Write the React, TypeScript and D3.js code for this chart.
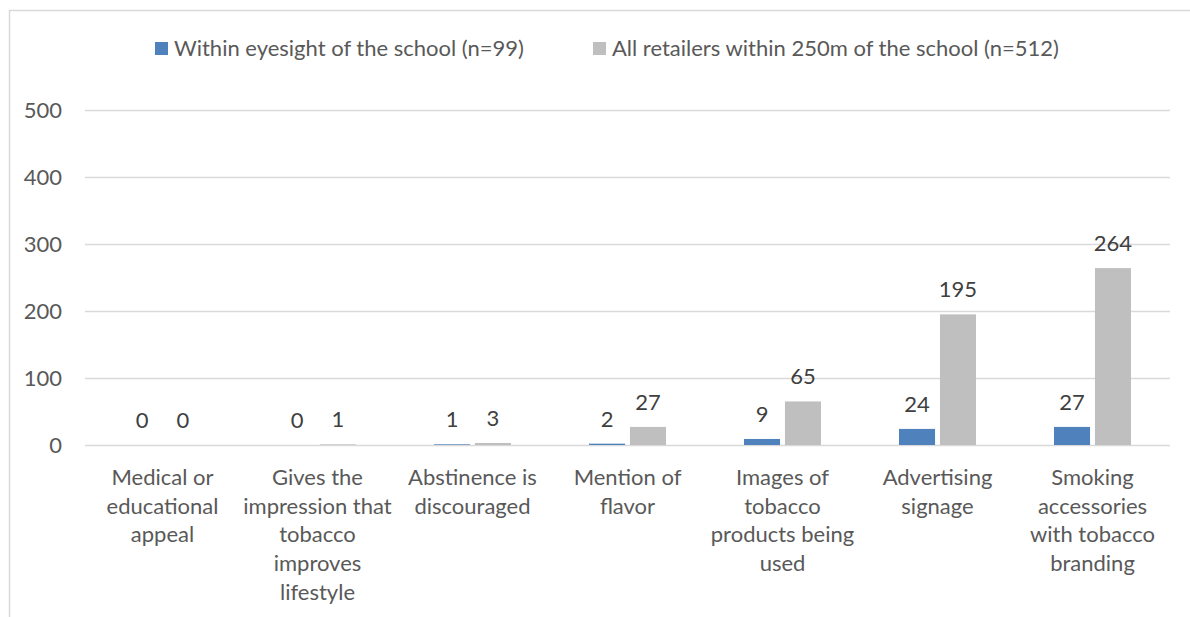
import React, { useRef, useEffect } from "react";
import * as d3 from "d3";

// category labels, already broken into lines like the original
const categories: string[][] = [
    ["Medical or", "educational", "appeal"],
    ["Gives the", "impression that", "tobacco", "improves", "lifestyle"],
    ["Abstinence is", "discouraged"],
    ["Mention of", "flavor"],
    ["Images of", "tobacco", "products being", "used"],
    ["Advertising", "signage"],
    ["Smoking", "accessories", "with tobacco", "branding"],
];

const seriesNames = [
    "Within eyesight of the school (n=99)",
    "All retailers within 250m of the school (n=512)",
];
const eyesight = [0, 0, 1, 2, 9, 24, 27];
const within250m = [0, 1, 3, 27, 65, 195, 264];
const yTicks = [0, 100, 200, 300, 400, 500];

const colors = ["#4F81BD", "#BFBFBF"];

const App: React.FC = () => {
    const svgRef = useRef<SVGSVGElement | null>(null);

    useEffect(() => {
        if (!svgRef.current) return;
        d3.select(svgRef.current).selectAll("*").remove();

        const width = 1190;
        const height = 617;
        const svg = d3.select(svgRef.current).attr("width", width).attr("height", height);
        const font = "Lato, 'Open Sans', sans-serif";
        const fs = 22;

        // chart border
        svg.append("rect")
            .attr("x", 9.5)
            .attr("y", 10.5)
            .attr("width", 1300)
            .attr("height", 800)
            .attr("fill", "#fff")
            .attr("stroke", "#D9D9D9")
            .attr("stroke-width", 1.5);

        const plot = { left: 85, right: 1170, top: 110, bottom: 445 };
        const labels = categories.map((c) => c.join(" "));
        const series = [eyesight, within250m];

        const x0 = d3.scaleBand().domain(labels).range([plot.left, plot.right]);
        const x1 = d3
            .scaleBand<number>()
            .domain([0, 1])
            .range([39, x0.bandwidth() - 39])
            .paddingInner(0.12);
        const y = d3.scaleLinear().domain([0, 500]).range([plot.bottom, plot.top]);

        // gridlines + y labels
        const yAxis = svg.append("g");
        yAxis.selectAll("line")
            .data(yTicks)
            .enter()
            .append("line")
            .attr("x1", plot.left)
            .attr("x2", plot.right)
            .attr("y1", (d) => y(d) + 0.5)
            .attr("y2", (d) => y(d) + 0.5)
            .attr("stroke", "#D9D9D9")
            .attr("stroke-width", 1.5);
        yAxis.selectAll("text")
            .data(yTicks)
            .enter()
            .append("text")
            .attr("x", 62)
            .attr("y", (d) => y(d))
            .attr("dy", "0.35em")
            .attr("text-anchor", "end")
            .attr("font-family", font)
            .attr("font-size", fs)
            .attr("fill", "#595959")
            .text((d) => d);

        // bars
        series.forEach((vals, s) => {
            const g = svg.append("g");
            g.selectAll("rect")
                .data(vals)
                .enter()
                .append("rect")
                .attr("x", (_d, i) => x0(labels[i])! + x1(s)!)
                .attr("y", (d) => y(d))
                .attr("width", x1.bandwidth())
                .attr("height", (d) => plot.bottom - y(d))
                .attr("fill", colors[s]);
            g.selectAll("text")
                .data(vals)
                .enter()
                .append("text")
                .attr("x", (_d, i) => x0(labels[i])! + x1(s)! + x1.bandwidth() / 2)
                .attr("y", (d) => y(d) - 17)
                .attr("text-anchor", "middle")
                .attr("font-family", font)
                .attr("font-size", fs)
                .attr("fill", "#404040")
                .text((d) => d);
        });

        // category labels
        const xAxis = svg.append("g");
        categories.forEach((lines, i) => {
            const t = xAxis.append("text")
                .attr("x", x0(labels[i])! + x0.bandwidth() / 2)
                .attr("y", 485)
                .attr("text-anchor", "middle")
                .attr("font-family", font)
                .attr("font-size", fs)
                .attr("fill", "#595959");
            lines.forEach((ln, j) => {
                t.append("tspan")
                    .attr("x", x0(labels[i])! + x0.bandwidth() / 2)
                    .attr("dy", j === 0 ? 0 : 28.7)
                    .text(ln);
            });
        });

        // legend
        const legendX = [155, 593];
        seriesNames.forEach((name, s) => {
            svg.append("rect")
                .attr("x", legendX[s])
                .attr("y", 42)
                .attr("width", 13)
                .attr("height", 13)
                .attr("fill", colors[s]);
            svg.append("text")
                .attr("x", legendX[s] + 19)
                .attr("y", 48)
                .attr("dy", "0.35em")
                .attr("font-family", font)
                .attr("font-size", fs)
                .attr("fill", "#595959")
                .text(name);
        });
    }, []);

    return (
        <svg
            ref={svgRef}
            style={{ position: "absolute", left: 0, top: 0, display: "block" }}
        ></svg>
    );
};

export default App;
